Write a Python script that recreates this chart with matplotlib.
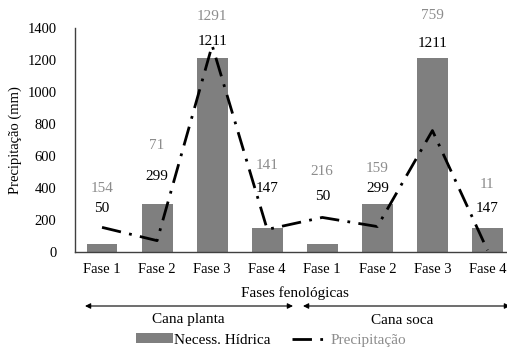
import numpy as np
import matplotlib.pyplot as plt
from matplotlib.lines import Line2D
from matplotlib.patches import Patch

plt.rcParams['font.family'] = ['Liberation Serif', 'DejaVu Serif']

# data
fases = ["Fase 1", "Fase 2", "Fase 3", "Fase 4", "Fase 1", "Fase 2", "Fase 3", "Fase 4"]
necess_hidrica = [50, 299, 1211, 147, 50, 299, 1211, 147]
precipitacao = [154, 71, 1291, 141, 216, 159, 759, 11]

# label heights (as placed in the original chart)
bar_label_y = [269, 475, 1315, 394, 350, 394, 1306, 269]
line_label_y = [400, 663, 1469, 538, 506, 525, 1481, 419]

bar_color = "#7f7f7f"
label_gray = "#8c8c8c"

fig = plt.figure(figsize=(5.07, 3.5), dpi=100)
ax = fig.add_axes([74.5 / 507, 1 - 252 / 350, (507 - 74.5) / 507, 224 / 350])

x = np.arange(len(fases))
ax.bar(x, necess_hidrica, width=0.56, color=bar_color, zorder=2)
ax.plot(x, precipitacao, color="black", linestyle=(0, (7, 3, 1, 3)), linewidth=2, zorder=3)

for i in range(len(fases)):
    ax.text(x[i], bar_label_y[i], str(necess_hidrica[i]), ha="center", va="center",
            fontsize=11, color="black", zorder=4)
    ax.text(x[i], line_label_y[i], str(precipitacao[i]), ha="center", va="center",
            fontsize=11, color=label_gray, zorder=4)

ax.set_xlim(-0.5, 7.5 - 8 / 55)
ax.set_ylim(0, 1400)
ax.set_yticks(np.arange(0, 1401, 200))
ax.set_xticks(x)
ax.set_xticklabels(fases)
ax.tick_params(axis="both", length=0, labelsize=10.5)
ax.tick_params(axis="y", pad=13)
ax.tick_params(axis="x", pad=8)
for s in ["top", "right"]:
    ax.spines[s].set_visible(False)
for s in ["left", "bottom"]:
    ax.spines[s].set_color("#404040")
    ax.spines[s].set_linewidth(1)

ax.set_ylabel("Precipitação (mm)", fontsize=10.5, labelpad=4)
fig.text(295 / 507, 1 - 293 / 350, "Fases fenológicas", ha="center", va="center", fontsize=11)

# period arrows
arrow_style = dict(arrowstyle="<|-|>", color="black", lw=0.8, mutation_scale=8,
                   shrinkA=0, shrinkB=0)
ax.annotate("", xy=(85, 350 - 306), xytext=(293, 350 - 306), xycoords="figure pixels",
            textcoords="figure pixels", arrowprops=arrow_style)
ax.annotate("", xy=(303, 350 - 306), xytext=(510, 350 - 306), xycoords="figure pixels",
            textcoords="figure pixels", arrowprops=arrow_style)
fig.text(188 / 507, 1 - 320 / 350, "Cana planta", ha="center", va="center", fontsize=11)
fig.text(402 / 507, 1 - 320 / 350, "Cana soca", ha="center", va="center", fontsize=11)

handles = [Patch(facecolor=bar_color, edgecolor="none"),
           Line2D([0], [0], color="black", linestyle=(0, (7, 3, 1, 3)), linewidth=2)]
leg = fig.legend(handles, ["Necess. Hídrica", "Precipitação"], loc="center",
                 bbox_to_anchor=(271 / 507, 1 - 340 / 350), ncol=2, frameon=False,
                 fontsize=11, handlelength=2.4, handleheight=0.55, handletextpad=0.1,
                 columnspacing=1.4)
leg.get_texts()[1].set_color(label_gray)

fig.savefig("out.png", dpi=100)
